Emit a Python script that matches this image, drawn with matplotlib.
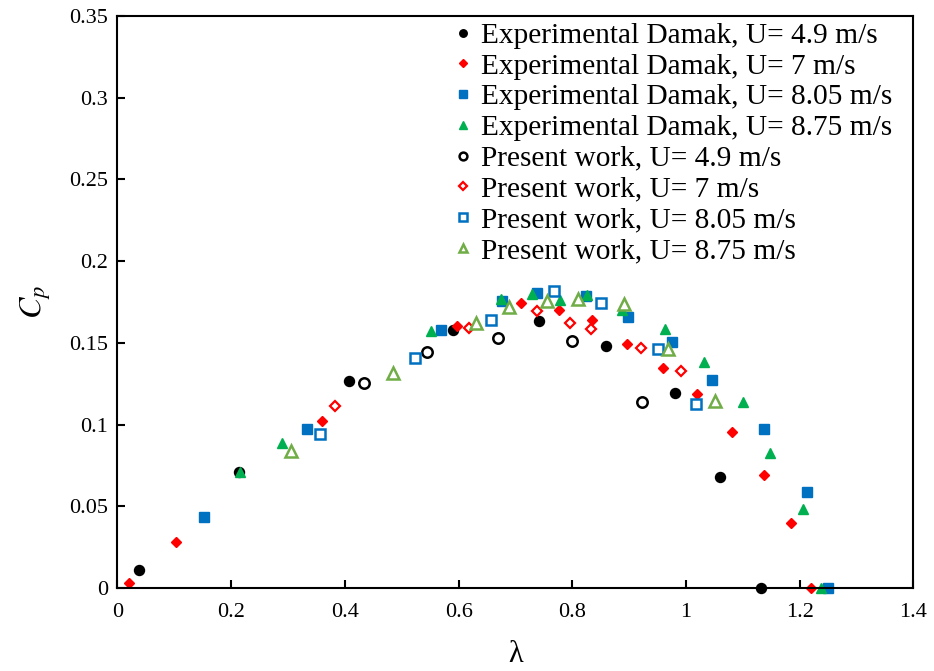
import numpy as np
import matplotlib
matplotlib.use("Agg")
import matplotlib.pyplot as plt

plt.rcParams['font.family'] = ['Liberation Serif', 'DejaVu Serif']
plt.rcParams['mathtext.fontset'] = 'stix'

# Experimental Damak (filled markers)
exp49_x = [0.038, 0.213, 0.407, 0.590, 0.741, 0.859, 0.981, 1.059, 1.1315]
exp49_y = [0.011, 0.071, 0.1265, 0.158, 0.1634, 0.148, 0.1195, 0.068, 0.0]

exp7_x = [0.020, 0.103, 0.360, 0.598, 0.709, 0.776, 0.834, 0.896, 0.959,
          1.019, 1.080, 1.137, 1.184, 1.2205]
exp7_y = [0.003, 0.028, 0.102, 0.160, 0.1746, 0.170, 0.1638, 0.149, 0.1346,
          0.1187, 0.0953, 0.0694, 0.0396, 0.0]

exp805_x = [0.153, 0.333, 0.569, 0.6755, 0.737, 0.824, 0.898, 0.975, 1.0465,
            1.137, 1.213, 1.250]
exp805_y = [0.0435, 0.0975, 0.158, 0.1756, 0.1807, 0.1789, 0.166, 0.1504,
            0.1275, 0.0971, 0.0586, 0.0]

exp875_x = [0.215, 0.289, 0.551, 0.675, 0.729, 0.779, 0.8255, 0.887, 0.963,
            1.032, 1.100, 1.147, 1.205, 1.238]
exp875_y = [0.071, 0.0886, 0.157, 0.1767, 0.180, 0.1763, 0.1793, 0.170, 0.1587,
            0.138, 0.1136, 0.0824, 0.0485, 0.0]

# Present work (open markers)
pw49_x = [0.434, 0.544, 0.669, 0.799, 0.923]
pw49_y = [0.1257, 0.1446, 0.153, 0.151, 0.1138]

pw7_x = [0.382, 0.618, 0.738, 0.796, 0.8325, 0.920, 0.991]
pw7_y = [0.1116, 0.1593, 0.1695, 0.162, 0.1585, 0.1469, 0.133]

pw805_x = [0.356, 0.524, 0.657, 0.768, 0.851, 0.950, 1.018]
pw805_y = [0.0945, 0.1408, 0.1642, 0.1818, 0.1746, 0.1463, 0.1128]

pw875_x = [0.306, 0.484, 0.630, 0.689, 0.755, 0.810, 0.891, 0.968, 1.0505]
pw875_y = [0.0838, 0.1314, 0.1624, 0.1718, 0.1756, 0.1767, 0.174, 0.1463, 0.1146]

fig = plt.figure(figsize=(9.34, 6.71), dpi=100)
ax = fig.add_axes([0.1258, 0.1237, 0.8522, 0.8525])

opts = dict(ls='none', clip_on=False)
ax.plot(exp49_x, exp49_y, 'o', color='black', ms=7.2,
        label='Experimental Damak, U= 4.9 m/s', **opts)
ax.plot(exp7_x, exp7_y, 'D', color='#FF0000', ms=5,
        label='Experimental Damak, U= 7 m/s', **opts)
ax.plot(exp805_x, exp805_y, 's', color='#0070C0', ms=7.2,
        label='Experimental Damak, U= 8.05 m/s', **opts)
ax.plot(exp875_x, exp875_y, '^', color='#00B050', ms=7.7,
        label='Experimental Damak, U= 8.75 m/s', **opts)
ax.plot(pw49_x, pw49_y, 'o', mfc='white', mec='black', mew=1.8, ms=7.5,
        label='Present work, U= 4.9 m/s', **opts)
ax.plot(pw7_x, pw7_y, 'D', mfc='white', mec='#FF0000', mew=1.6, ms=5.2,
        label='Present work, U= 7 m/s', **opts)
ax.plot(pw805_x, pw805_y, 's', mfc='white', mec='#0070C0', mew=1.8, ms=7.5,
        label='Present work, U= 8.05 m/s', **opts)
ax.plot(pw875_x, pw875_y, '^', mfc='white', mec='#70AD47', mew=1.8, ms=8,
        label='Present work, U= 8.75 m/s', **opts)

ax.set_xlim(0, 1.4)
ax.set_ylim(0, 0.35)
ax.set_xticks(np.arange(0, 1.41, 0.2))
ax.set_yticks(np.arange(0, 0.351, 0.05))
ax.set_xticklabels(['0', '0.2', '0.4', '0.6', '0.8', '1', '1.2', '1.4'])
ax.set_yticklabels(['0', '0.05', '0.1', '0.15', '0.2', '0.25', '0.3', '0.35'])
ax.tick_params(direction='in', length=6, width=1.5, labelsize=16)
ax.tick_params(axis='x', pad=11)
ax.tick_params(axis='y', pad=7)
for s in ax.spines.values():
    s.set_linewidth(1.5)

ax.set_xlabel('λ', fontsize=22, labelpad=13)
ax.set_ylabel('$C_p$', fontsize=23, labelpad=11)

leg = ax.legend(loc='upper left', bbox_to_anchor=(0.425, 0.989), frameon=False,
                fontsize=21.2, handlelength=0.5, handletextpad=0.35,
                labelspacing=0.14, markerscale=0.75, borderpad=0,
                borderaxespad=0)

plt.savefig('out.png', dpi=100)
